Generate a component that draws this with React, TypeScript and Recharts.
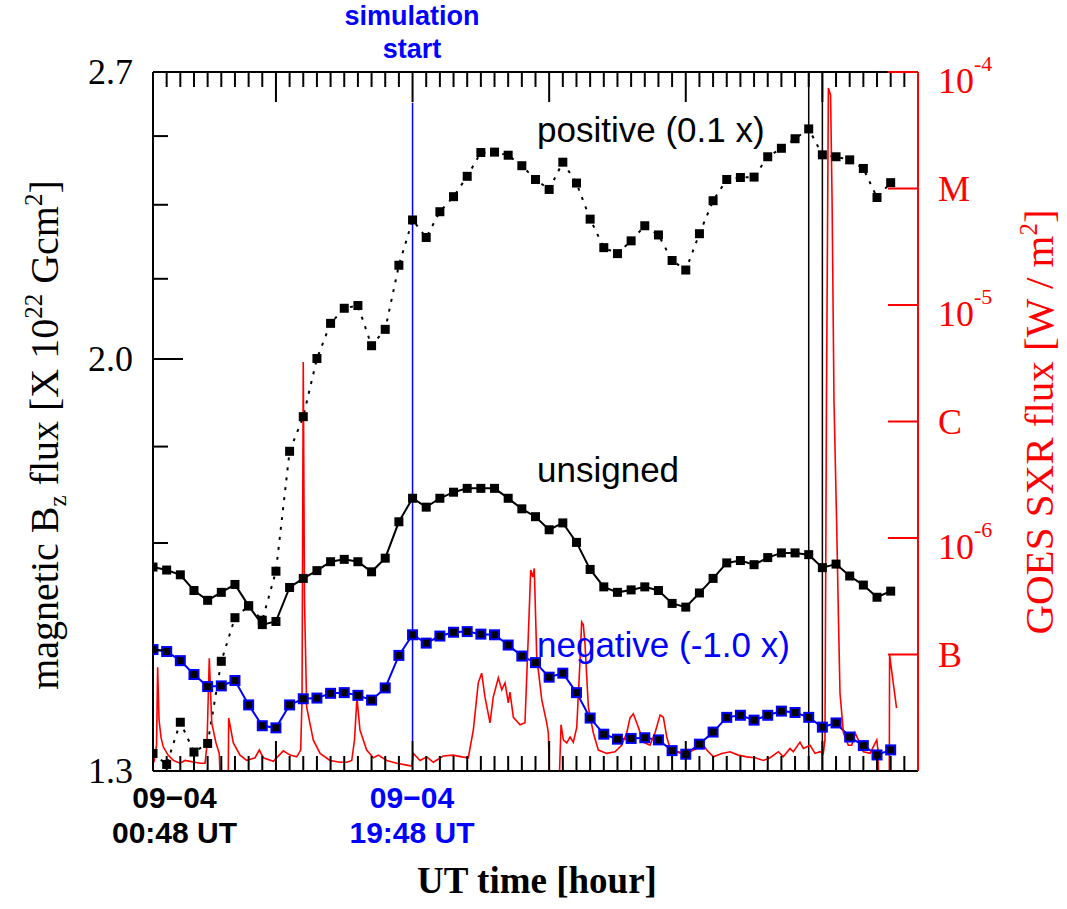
import React from 'react';
import { LineChart, Line, XAxis, YAxis, ReferenceLine } from 'recharts';

// ---------- data ----------
const HOURS = [0,1,2,3,4,5,6,7,8,9,10,11,12,13,14,15,16,17,18,19,20,21,22,23,24,25,26,27,28,29,30,31,32,33,34,35,36,37,38,39,40,41,42,43,44,45,46,47,48,49,50,51,52,53,54];

const POSITIVE = [1.324,1.309,1.368,1.326,1.338,1.458,1.526,1.545,1.522,1.602,
  1.816,1.883,2.001,2.076,2.109,2.115,2.028,2.063,2.206,2.313,
  2.271,2.333,2.370,2.421,2.482,2.483,2.475,2.448,2.413,2.388,
  2.457,2.404,2.315,2.247,2.233,2.263,2.299,2.277,2.217,2.195,
  2.280,2.360,2.413,2.418,2.419,2.471,2.493,2.518,2.544,2.476,
  2.471,2.463,2.441,2.368,2.405];

const UNSIGNED = [1.609,1.604,1.596,1.570,1.554,1.567,1.580,1.545,1.515,1.520,
  1.575,1.590,1.603,1.618,1.622,1.618,1.601,1.624,1.687,1.729,
  1.713,1.729,1.740,1.747,1.747,1.747,1.729,1.710,1.696,1.673,
  1.685,1.651,1.605,1.576,1.567,1.571,1.576,1.570,1.549,1.543,
  1.566,1.590,1.616,1.620,1.613,1.625,1.633,1.633,1.630,1.608,
  1.614,1.594,1.579,1.559,1.569];

const NEGATIVE = [1.476,1.473,1.459,1.438,1.420,1.421,1.429,1.393,1.363,1.360,
  1.393,1.402,1.403,1.410,1.411,1.407,1.400,1.418,1.467,1.499,
  1.486,1.497,1.503,1.504,1.500,1.499,1.483,1.466,1.456,1.434,
  1.440,1.411,1.374,1.351,1.344,1.345,1.346,1.343,1.328,1.323,
  1.337,1.354,1.375,1.378,1.371,1.378,1.384,1.382,1.375,1.361,
  1.367,1.347,1.335,1.322,1.329];

// GOES SXR flux [hour, W/m^2]
const GOES_SXR: [number, number][] = [
  [0.07,1.09e-7],[0.26,1.29e-7],[0.34,2.79e-7],[0.44,1.66e-7],[0.59,1.39e-7],[0.75,1.27e-7],
  [1.10,1.17e-7],[1.49,1.11e-7],[1.98,1.08e-7],[2.34,1.11e-7],[2.71,1.10e-7],[3.07,1.09e-7],
  [3.44,1.08e-7],[3.81,1.08e-7],[3.95,1.29e-7],[4.12,3.05e-7],[4.30,1.61e-7],[4.61,1.32e-7],
  [4.85,1.19e-7],[4.90,1.0e-7],[5.51,1.0e-7],[5.54,1.69e-7],[5.88,1.32e-7],[6.37,1.17e-7],
  [6.86,1.11e-7],[7.47,1.14e-7],[7.78,1.23e-7],[8.07,1.14e-7],[8.81,1.10e-7],[9.54,1.22e-7],
  [10.03,1.17e-7],[10.52,1.15e-7],[10.81,1.23e-7],[10.91,2.02e-7],[11.00,5.69e-6],[11.09,5.4e-7],
  [11.25,1.88e-7],[11.73,1.36e-7],[12.23,1.19e-7],[12.96,1.11e-7],[13.69,1.09e-7],[14.18,1.09e-7],
  [14.55,1.11e-7],[14.75,1.36e-7],[14.93,2.06e-7],[15.15,1.50e-7],[15.64,1.23e-7],[16.13,1.14e-7],
  [16.49,1.17e-7],[17.11,1.11e-7],[17.84,1.08e-7],[18.57,1.06e-7],[18.94,1.05e-7],[19.06,1.19e-7],
  [19.55,1.11e-7],[20.04,1.15e-7],[20.52,1.09e-7],[21.25,1.16e-7],[21.98,1.17e-7],[22.60,1.15e-7],
  [23.08,1.14e-7],[23.45,1.50e-7],[23.81,2.39e-7],[24.06,2.63e-7],[24.30,2.08e-7],[24.67,1.61e-7],
  [24.91,2.08e-7],[25.28,2.51e-7],[25.53,2.23e-7],[25.77,2.39e-7],[26.01,1.96e-7],[26.13,2.18e-7],
  [26.38,1.70e-7],[26.87,1.58e-7],[27.23,1.61e-7],[27.47,3.76e-7],[27.65,7.29e-7],[27.80,6.8e-7],
  [27.91,7.4e-7],[28.09,3.09e-7],[28.46,2.02e-7],[28.82,1.61e-7],[28.94,1.46e-7],[29.01,1.0e-7],
  [29.76,1.0e-7],[29.87,1.58e-7],[30.04,1.36e-7],[30.29,1.32e-7],[30.53,1.40e-7],[30.77,1.33e-7],
  [31.02,1.54e-7],[31.26,2.99e-7],[31.38,4.36e-7],[31.50,4.24e-7],[31.62,3.54e-7],[31.87,1.88e-7],
  [32.23,1.46e-7],[32.60,1.23e-7],[33.21,1.19e-7],[33.82,1.21e-7],[34.31,1.29e-7],[34.68,1.46e-7],
  [34.92,1.69e-7],[35.16,1.76e-7],[35.53,1.54e-7],[35.89,1.33e-7],[36.38,1.29e-7],[36.75,1.46e-7],
  [37.12,1.74e-7],[37.36,1.70e-7],[37.61,1.40e-7],[37.85,1.25e-7],[38.34,1.21e-7],[38.95,1.19e-7],
  [39.31,1.21e-7],[39.80,1.25e-7],[40.29,1.29e-7],[40.54,1.23e-7],[41.02,1.15e-7],[41.63,1.19e-7],
  [42.24,1.21e-7],[42.85,1.17e-7],[43.46,1.15e-7],[44.07,1.14e-7],[44.68,1.11e-7],[45.17,1.14e-7],
  [45.78,1.21e-7],[46.14,1.15e-7],[46.63,1.25e-7],[46.87,1.21e-7],[47.36,1.33e-7],[47.61,1.25e-7],
  [48.10,1.29e-7],[48.46,1.19e-7],[48.83,1.21e-7],[49.07,1.19e-7],[49.19,1.36e-7],[49.30,3.91e-6],
  [49.44,8.53e-5],[49.60,7.96e-5],[49.71,2.82e-5],[49.85,3.91e-6],[50.04,1.19e-6],[50.18,4.45e-7],
  [50.29,2.16e-7],[50.54,1.46e-7],[50.90,1.29e-7],[51.15,1.29e-7],[51.39,1.46e-7],[51.63,1.36e-7],
  [52.00,1.21e-7],[52.49,1.19e-7],[52.98,1.36e-7],[53.07,1.23e-7],[53.10,1.0e-7],[53.90,1.0e-7],
  [53.92,3.15e-7],[54.43,1.86e-7],
];

const HOUR_TICKS = [0,1,2,3,4,5,6,7,8,9,10,11,12,13,14,15,16,17,18,19,20,21,22,23,24,25,26,27,28,29,30,31,32,33,34,35,36,37,38,39,40,41,42,43,44,45,46,47,48,49,50,51,52,53,54,55,56];
const MAJOR_HOURS = [9,19,29,39,49];
const LEFT_TICKS = [1.3,1.475,1.65,1.825,2.0,2.175,2.35,2.525,2.7];
const LEFT_LABELS = ['1.3','','','','2.0','','','','2.7'];
const RIGHT_TICKS = [1e-4,3.162e-5,1e-5,3.162e-6,1e-6,3.162e-7];
const RIGHT_LABELS = ['10|-4','M','10|-5','C','10|-6','B'];
const FLARE_HOURS = [48,49];
const SIM_START_HOUR = 19;

// ---------- layout ----------
const W = 1067, H = 909;
const PLOT_LEFT = 153, PLOT_RIGHT = 918, PLOT_TOP = 72, PLOT_BOTTOM = 771;
const SERIF = '"Liberation Serif", "Times New Roman", serif';
const SANS = '"Liberation Sans", Arial, sans-serif';
const BLUE = '#0000ff';
const RED = '#ff0000';

const rows = HOURS.map((h, i) => ({ hour: h, positive: POSITIVE[i], unsigned: UNSIGNED[i], negative: NEGATIVE[i] }));
const goesRows = GOES_SXR.map(([h, f]) => ({ hour: h, flux: f }));

const BottomTick = (props: any) => {
  const { x, payload } = props;
  const v = payload.value;
  if (v === 0 || v === 56) return <g />;
  const len = MAJOR_HOURS.includes(v) ? 30 : 15;
  return <line x1={x} x2={x} y1={PLOT_BOTTOM} y2={PLOT_BOTTOM - len} stroke="#000" strokeWidth={2} />;
};

const TopTick = (props: any) => {
  const { x, payload } = props;
  const v = payload.value;
  if (v === 0 || v === 56) return <g />;
  const len = MAJOR_HOURS.includes(v) ? 30 : 15;
  return <line x1={x} x2={x} y1={PLOT_TOP} y2={PLOT_TOP + len} stroke="#000" strokeWidth={2} />;
};

const LeftTick = (props: any) => {
  const { y, payload } = props;
  const idx = LEFT_TICKS.indexOf(payload.value);
  const label = idx >= 0 ? LEFT_LABELS[idx] : '';
  const len = label ? 30 : 15;
  return (
    <g>
      <line x1={PLOT_LEFT} x2={PLOT_LEFT + len} y1={y} y2={y} stroke="#000" strokeWidth={2} />
      {label ? (
        <text x={PLOT_LEFT - 20} y={y + 12} textAnchor="end" fontFamily={SERIF} fontSize={36} fill="#000">{label}</text>
      ) : null}
    </g>
  );
};

const RightTick = (props: any) => {
  const { y, payload } = props;
  const idx = RIGHT_TICKS.indexOf(payload.value);
  const label = idx >= 0 ? RIGHT_LABELS[idx] : '';
  const parts = label.split('|');
  return (
    <g>
      <line x1={PLOT_RIGHT} x2={PLOT_RIGHT - 30} y1={y} y2={y} stroke={RED} strokeWidth={2} />
      {parts.length === 2 ? (
        <text x={PLOT_RIGHT + 20} y={y + 21} fontFamily={SERIF} fontSize={36} fill={RED}>
          {parts[0]}
          <tspan dy={-22} fontSize={22}>{parts[1]}</tspan>
        </text>
      ) : (
        <text x={PLOT_RIGHT + 20} y={y + 12} fontFamily={SERIF} fontSize={36} fill={RED}>{label}</text>
      )}
    </g>
  );
};

const BlackSquare = (props: any) => {
  const { cx, cy, index } = props;
  if (cx == null || cy == null) return <g key={`b${index}`} />;
  return <rect key={`b${index}`} x={cx - 4.5} y={cy - 4.5} width={9} height={9} fill="#000" />;
};

const BlueSquare = (props: any) => {
  const { cx, cy, index } = props;
  if (cx == null || cy == null) return <g key={`n${index}`} />;
  return <rect key={`n${index}`} x={cx - 4.5} y={cy - 4.5} width={9} height={9} fill="#000" stroke={BLUE} strokeWidth={2} />;
};

export default function App() {
  return (
    <div style={{ position: 'absolute', left: 0, top: 0, width: W, height: H, background: '#fff' }}>
      <div style={{ position: 'absolute', left: 0, top: 0 }}>
        <LineChart width={W} height={H} data={rows} margin={{ top: 70, right: 89, bottom: 108, left: 93 }}>
          <XAxis xAxisId="bottom" dataKey="hour" type="number" domain={[0, 56]} ticks={HOUR_TICKS} interval={0}
            tick={BottomTick} tickLine={false} axisLine={{ stroke: '#000', strokeWidth: 2 }} height={30} allowDataOverflow />
          <XAxis xAxisId="top" orientation="top" dataKey="hour" type="number" domain={[0, 56]} ticks={HOUR_TICKS} interval={0}
            tick={TopTick} tickLine={false} axisLine={{ stroke: '#000', strokeWidth: 2 }} height={2} allowDataOverflow />
          <YAxis yAxisId="left" type="number" scale="log" domain={[1.3, 2.7]} ticks={LEFT_TICKS} interval={0}
            tick={LeftTick} tickLine={false} axisLine={{ stroke: '#000', strokeWidth: 2 }} width={60} allowDataOverflow />
          <YAxis yAxisId="right" orientation="right" type="number" scale="log" domain={[1e-7, 1e-4]} ticks={RIGHT_TICKS} interval={0}
            tick={RightTick} tickLine={false} axisLine={{ stroke: RED, strokeWidth: 2 }} width={60} allowDataOverflow />

          <ReferenceLine xAxisId="bottom" yAxisId="left" x={FLARE_HOURS[0]} stroke="#000" strokeWidth={1.5} />
          <ReferenceLine xAxisId="bottom" yAxisId="left" x={FLARE_HOURS[1]} stroke="#000" strokeWidth={1.5} />
          <ReferenceLine xAxisId="bottom" yAxisId="left"
            segment={[{ x: SIM_START_HOUR, y: 1.3415 }, { x: SIM_START_HOUR, y: 2.6148 }]}
            stroke={BLUE} strokeWidth={1.5} />

          <Line xAxisId="bottom" yAxisId="left" dataKey="positive" type="linear" stroke="#000" strokeWidth={2}
            strokeDasharray="3 7" dot={BlackSquare} activeDot={false} isAnimationActive={false} />
          <Line xAxisId="bottom" yAxisId="left" dataKey="unsigned" type="linear" stroke="#000" strokeWidth={2}
            dot={BlackSquare} activeDot={false} isAnimationActive={false} />
          <Line xAxisId="bottom" yAxisId="left" dataKey="negative" type="linear" stroke={BLUE} strokeWidth={2}
            dot={BlueSquare} activeDot={false} isAnimationActive={false} />
          <Line xAxisId="bottom" yAxisId="right" data={goesRows} dataKey="flux" type="linear" stroke={RED} strokeWidth={1.6}
            dot={false} activeDot={false} isAnimationActive={false} />
        </LineChart>
      </div>
      <svg width={W} height={H} style={{ position: 'absolute', left: 0, top: 0, pointerEvents: 'none' }}>
        <text x={412} y={25} textAnchor="middle" fontFamily={SANS} fontWeight="bold" fontSize={27} fill={BLUE}>simulation</text>
        <text x={412} y={58} textAnchor="middle" fontFamily={SANS} fontWeight="bold" fontSize={27} fill={BLUE}>start</text>

        <text x={537} y={142} fontFamily={SANS} fontSize={35} fill="#000">positive (0.1 x)</text>
        <text x={537} y={482} fontFamily={SANS} fontSize={35} fill="#000">unsigned</text>
        <text x={537} y={657} fontFamily={SANS} fontSize={35} fill={BLUE}>negative (-1.0 x)</text>

        <text x={174.5} y={808} textAnchor="middle" fontFamily={SANS} fontWeight="bold" fontSize={30} fill="#000">09−04</text>
        <text x={174.5} y={843} textAnchor="middle" fontFamily={SANS} fontWeight="bold" fontSize={30} fill="#000">00:48 UT</text>
        <text x={412} y={808} textAnchor="middle" fontFamily={SANS} fontWeight="bold" fontSize={30} fill={BLUE}>09−04</text>
        <text x={412} y={843} textAnchor="middle" fontFamily={SANS} fontWeight="bold" fontSize={30} fill={BLUE}>19:48 UT</text>

        <text x={537} y={893} textAnchor="middle" fontFamily={SERIF} fontWeight="bold" fontSize={37} fill="#000">UT time [hour]</text>

        <text x={58} y={435} transform="rotate(-90 58 435)" textAnchor="middle" fontFamily={SERIF} fontSize={40} fill="#000">
          magnetic B<tspan dy={8} fontSize={25}>z</tspan><tspan dy={-8}> flux [X 10</tspan><tspan dy={-16} fontSize={25}>22</tspan><tspan dy={16}> Gcm</tspan><tspan dy={-16} fontSize={25}>2</tspan><tspan dy={16}>]</tspan>
        </text>
        <text x={1053} y={422} transform="rotate(-90 1053 422)" textAnchor="middle" fontFamily={SERIF} fontSize={41} fill={RED}>
          GOES SXR flux [W / m<tspan dy={-16} fontSize={25}>2</tspan><tspan dy={16}>]</tspan>
        </text>
      </svg>
    </div>
  );
}
